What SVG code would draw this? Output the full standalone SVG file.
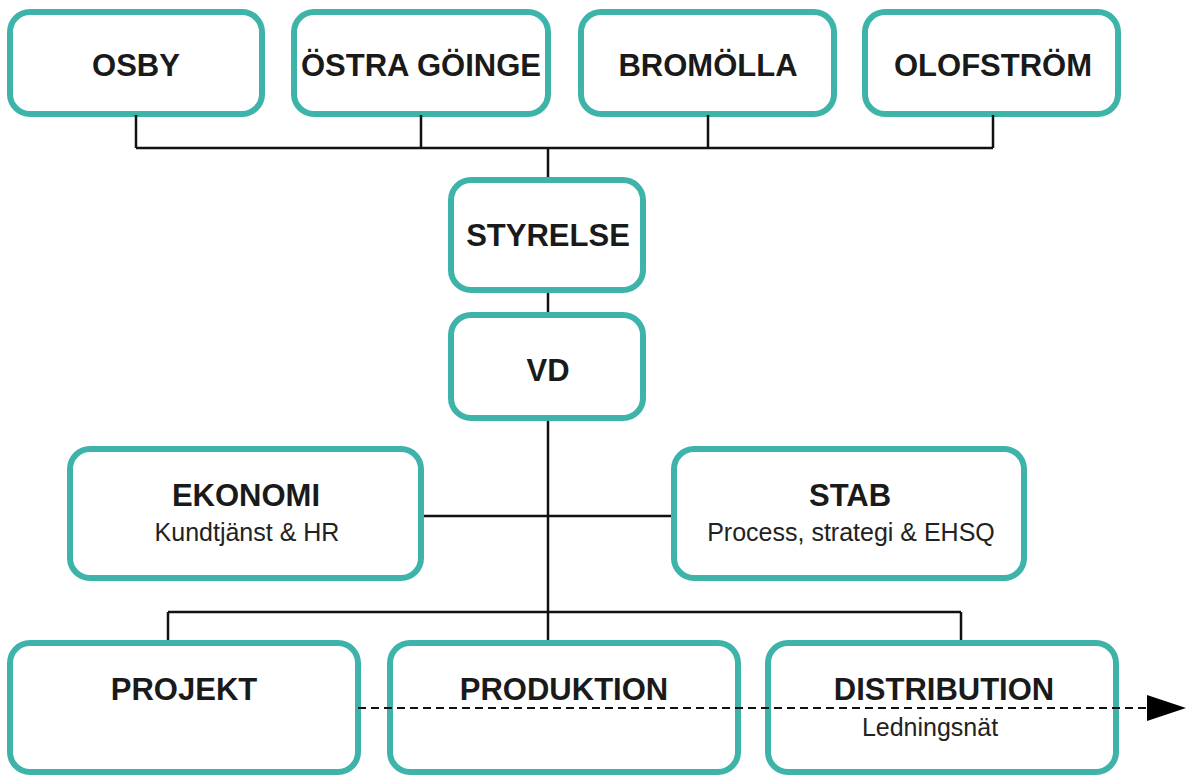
<svg xmlns="http://www.w3.org/2000/svg" width="1192" height="776" viewBox="0 0 1192 776">
<style>
.box{fill:#fff;stroke:#3db3aa;stroke-width:6}
.t{font-family:"Liberation Sans",Arial,sans-serif;font-weight:bold;font-size:31px;fill:#1a1a1a;text-anchor:middle}
.s{font-family:"Liberation Sans",Arial,sans-serif;font-size:25px;fill:#222;text-anchor:middle}
.c{stroke:#111;stroke-width:2.5;fill:none}
</style>
<defs>
<marker id="arr" markerWidth="40" markerHeight="28" refX="0" refY="14" orient="auto" markerUnits="userSpaceOnUse">
<path d="M0,1 L39,14 L0,27 Z" fill="#000"/>
</marker>
</defs>
<rect width="1192" height="776" fill="#fff"/>
<g id="osby"><rect class="box" x="10" y="12" width="252" height="102" rx="20"/><text class="t" x="136" y="76">OSBY</text></g>
<g id="ostra-goinge"><rect class="box" x="294" y="12" width="254" height="102" rx="20"/><text class="t" x="421" y="76">ÖSTRA GÖINGE</text></g>
<g id="bromolla"><rect class="box" x="581" y="12" width="253" height="102" rx="20"/><text class="t" x="708" y="76">BROMÖLLA</text></g>
<g id="olofstrom"><rect class="box" x="865" y="12" width="253" height="102" rx="20"/><text class="t" x="993" y="76">OLOFSTRÖM</text></g>
<g id="styrelse"><rect class="box" x="451" y="180" width="192" height="110" rx="20"/><text class="t" x="548" y="246">STYRELSE</text></g>
<g id="vd"><rect class="box" x="451" y="315" width="192" height="103" rx="20"/><text class="t" x="548" y="381">VD</text></g>
<g id="ekonomi"><rect class="box" x="70" y="449" width="351" height="129" rx="20"/><text class="t" x="246" y="506">EKONOMI</text><text class="s" x="247" y="541">Kundtjänst &amp; HR</text></g>
<g id="stab"><rect class="box" x="674" y="449" width="350" height="129" rx="20"/><text class="t" x="850" y="506">STAB</text><text class="s" x="851" y="541">Process, strategi &amp; EHSQ</text></g>
<g id="projekt"><rect class="box" x="10" y="643" width="348" height="129" rx="20"/><text class="t" x="184" y="700">PROJEKT</text></g>
<g id="produktion"><rect class="box" x="390" y="643" width="348" height="129" rx="20"/><text class="t" x="564" y="700">PRODUKTION</text></g>
<g id="distribution"><rect class="box" x="768" y="643" width="348" height="129" rx="20"/><text class="t" x="944" y="700">DISTRIBUTION</text><text class="s" x="930" y="736">Ledningsnät</text></g>
<g id="connectors">
<path class="c" d="M136,115 V148 M421,115 V148 M708,115 V148 M993,115 V148 M136,148 H993 M548,148 V177"/>
<path class="c" d="M548,293 V312"/>
<path class="c" d="M548,421 V640"/>
<path class="c" d="M424,516 H671"/>
<path class="c" d="M168,612 H961 M168,612 V640 M961,612 V640"/>
<path d="M358,708 H1147" stroke="#111" stroke-width="2" stroke-dasharray="8,5" fill="none" marker-end="url(#arr)"/>
</g>
</svg>
